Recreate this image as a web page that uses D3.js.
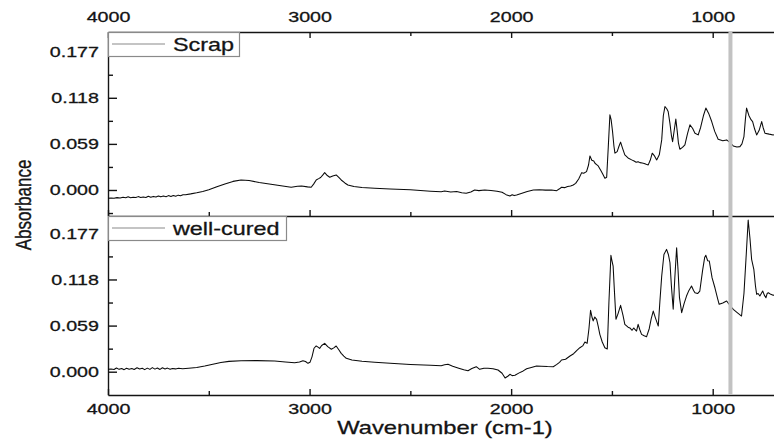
<!DOCTYPE html>
<html>
<head>
<meta charset="utf-8">
<script src="https://cdn.jsdelivr.net/npm/d3@7/dist/d3.min.js"></script>
<style>
  html, body { margin: 0; padding: 0; background: #fff; }
  svg { display: block; font-family: "Liberation Sans", Arial, sans-serif; }
  text { stroke: #141414; stroke-width: 0.3px; }
</style>
</head>
<body>
<svg id="chart" width="774" height="440"></svg>
<script>
// FTIR spectra of two epoxy samples (absorbance vs. wavenumber)
const seriesNames = ["Scrap", "well-cured"];

const scrapWavenumber = [
  4000, 3985, 3970, 3955, 3940, 3925, 3912, 3900, 3888, 3875, 3862, 3850, 3838, 3825, 3812, 3800,
  3788, 3775, 3762, 3750, 3738, 3725, 3712, 3700, 3688, 3676, 3664, 3652, 3640, 3628, 3615, 3590,
  3560, 3530, 3500, 3460, 3420, 3380, 3340, 3300, 3250, 3200, 3150, 3100, 3091, 3060, 3040, 3010,
  2992, 2980, 2967, 2955, 2945, 2935, 2925, 2912, 2900, 2885, 2868, 2855, 2843, 2825, 2810, 2780,
  2740, 2677, 2600, 2500, 2400, 2347, 2330, 2300, 2270, 2245, 2223, 2200, 2181, 2160, 2131, 2100,
  2070, 2045, 2025, 2006, 1995, 1985, 1973, 1950, 1920, 1890, 1860, 1830, 1800, 1774, 1760, 1750,
  1735, 1720, 1705, 1692, 1680, 1665, 1650, 1640, 1626, 1616, 1609, 1600, 1590, 1584, 1576, 1568,
  1555, 1545, 1535, 1526, 1518, 1510, 1504, 1497, 1490, 1485, 1474, 1465, 1457, 1448, 1436, 1420,
  1402, 1390, 1380, 1370, 1361, 1350, 1340, 1330, 1320, 1310, 1300, 1290, 1278, 1265, 1253, 1245,
  1237, 1228, 1221, 1212, 1205, 1199, 1190, 1183, 1176, 1170, 1163, 1150, 1138, 1125, 1113, 1100,
  1088, 1072, 1060, 1045, 1034, 1020, 1005, 990, 973, 950, 931, 915, 898, 880, 865, 855,
  845, 838, 832, 820, 810, 802, 792, 782, 770, 757, 750, 741, 720, 700, 690
];
const scrapAbsorbance = [
  -0.0106, -0.0102, -0.0105, -0.0098, -0.0103, -0.0094, -0.0100, -0.0088, -0.0099, -0.0092, -0.0097, -0.0085, -0.0095, -0.0089, -0.0096, -0.0080,
  -0.0092, -0.0082, -0.0090, -0.0076, -0.0088, -0.0078, -0.0086, -0.0072, -0.0083, -0.0070, -0.0079, -0.0066, -0.0074, -0.0060, -0.0060, -0.0050,
  -0.0035, -0.0018, 0.0003, 0.0040, 0.0078, 0.0110, 0.0128, 0.0122, 0.0095, 0.0076, 0.0057, 0.0039, 0.0035, 0.0048, 0.0052, 0.0040,
  0.0035, 0.0075, 0.0128, 0.0145, 0.0160, 0.0190, 0.0222, 0.0185, 0.0163, 0.0180, 0.0192, 0.0160, 0.0128, 0.0090, 0.0064, 0.0045,
  0.0033, 0.0022, 0.0012, 0.0002, -0.0015, -0.0022, -0.0012, -0.0026, -0.0020, -0.0035, -0.0042, -0.0025, 0.0000, -0.0008, 0.0000, -0.0006,
  -0.0015, -0.0030, -0.0060, -0.0077, -0.0062, -0.0072, -0.0064, -0.0045, -0.0020, 0.0000, 0.0004, -0.0002, 0.0000, -0.0009, 0.0015, 0.0035,
  0.0030, 0.0045, 0.0050, 0.0064, 0.0085, 0.0140, 0.0222, 0.0215, 0.0235, 0.0320, 0.0436, 0.0380, 0.0370, 0.0342, 0.0325, 0.0308,
  0.0250, 0.0200, 0.0150, 0.0163, 0.0555, 0.0962, 0.0900, 0.0750, 0.0560, 0.0471, 0.0491, 0.0560, 0.0612, 0.0540, 0.0449, 0.0410,
  0.0385, 0.0370, 0.0355, 0.0362, 0.0350, 0.0345, 0.0340, 0.0330, 0.0321, 0.0380, 0.0471, 0.0440, 0.0385, 0.0450, 0.0641, 0.0950,
  0.1068, 0.1040, 0.1004, 0.0850, 0.0700, 0.0619, 0.0780, 0.0907, 0.0750, 0.0600, 0.0522, 0.0545, 0.0577, 0.0720, 0.0834, 0.0790,
  0.0727, 0.0705, 0.0800, 0.0960, 0.1048, 0.0980, 0.0876, 0.0750, 0.0650, 0.0630, 0.0641, 0.0610, 0.0564, 0.0550, 0.0555, 0.0590,
  0.0684, 0.0900, 0.1048, 0.0950, 0.0900, 0.0876, 0.0780, 0.0705, 0.0760, 0.0876, 0.0800, 0.0727, 0.0715, 0.0705, 0.0708
];

const curedWavenumber = [
  4000, 3985, 3970, 3958, 3945, 3932, 3920, 3908, 3895, 3882, 3870, 3856, 3843, 3830, 3818, 3805,
  3792, 3780, 3767, 3755, 3742, 3730, 3717, 3705, 3692, 3680, 3665, 3650, 3630, 3600, 3560, 3520,
  3480, 3440, 3400, 3340, 3260, 3173, 3120, 3074, 3050, 3033, 3020, 3008, 2998, 2988, 2978, 2967,
  2958, 2950, 2940, 2925, 2910, 2892, 2880, 2868, 2855, 2843, 2830, 2818, 2790, 2740, 2677, 2600,
  2500, 2400, 2347, 2330, 2313, 2290, 2260, 2235, 2214, 2195, 2173, 2156, 2135, 2115, 2090, 2065,
  2045, 2030, 2015, 2006, 1995, 1981, 1960, 1940, 1923, 1900, 1874, 1850, 1820, 1791, 1775, 1760,
  1750, 1730, 1708, 1690, 1675, 1659, 1645, 1634, 1623, 1614, 1606, 1598, 1593, 1585, 1576, 1568,
  1560, 1548, 1535, 1523, 1515, 1505, 1500, 1494, 1488, 1480, 1470, 1457, 1445, 1436, 1420, 1411,
  1400, 1392, 1386, 1378, 1370, 1362, 1353, 1340, 1328, 1315, 1305, 1295, 1283, 1270, 1262, 1253,
  1242, 1229, 1220, 1212, 1205, 1196, 1188, 1179, 1172, 1165, 1154, 1142, 1130, 1118, 1105, 1095,
  1088, 1075, 1064, 1050, 1040, 1034, 1025, 1017, 1003, 989, 975, 968, 950, 931, 915, 898,
  880, 857, 845, 835, 824, 815, 807, 796, 788, 782, 775, 766, 759, 752, 744, 736,
  730, 724, 712, 700, 690
];
const curedAbsorbance = [
  0.0031, 0.0035, 0.0028, 0.0048, 0.0030, 0.0042, 0.0026, 0.0045, 0.0032, 0.0040, 0.0028, 0.0050, 0.0034, 0.0044, 0.0027, 0.0046,
  0.0030, 0.0052, 0.0033, 0.0047, 0.0029, 0.0050, 0.0035, 0.0046, 0.0031, 0.0042, 0.0036, 0.0044, 0.0038, 0.0045, 0.0055, 0.0072,
  0.0095, 0.0118, 0.0132, 0.0141, 0.0142, 0.0138, 0.0125, 0.0115, 0.0125, 0.0141, 0.0130, 0.0107, 0.0120, 0.0190, 0.0300, 0.0329,
  0.0315, 0.0299, 0.0335, 0.0363, 0.0320, 0.0287, 0.0305, 0.0329, 0.0280, 0.0235, 0.0200, 0.0171, 0.0150, 0.0133, 0.0120, 0.0108,
  0.0093, 0.0082, 0.0077, 0.0088, 0.0095, 0.0070, 0.0045, 0.0025, 0.0013, 0.0040, 0.0064, 0.0030, 0.0045, 0.0043, 0.0038, 0.0022,
  -0.0020, -0.0080, -0.0055, -0.0033, -0.0050, -0.0046, -0.0015, 0.0010, 0.0038, 0.0055, 0.0073, 0.0070, 0.0066, 0.0064, 0.0090, 0.0120,
  0.0150, 0.0160, 0.0201, 0.0230, 0.0270, 0.0307, 0.0330, 0.0380, 0.0363, 0.0550, 0.0785, 0.0690, 0.0650, 0.0700, 0.0670, 0.0580,
  0.0478, 0.0380, 0.0307, 0.0290, 0.0882, 0.1489, 0.1420, 0.1350, 0.1050, 0.0670, 0.0740, 0.0849, 0.0720, 0.0606, 0.0570, 0.0560,
  0.0530, 0.0560, 0.0540, 0.0520, 0.0606, 0.0540, 0.0478, 0.0460, 0.0448, 0.0550, 0.0680, 0.0776, 0.0680, 0.0584, 0.0900, 0.1224,
  0.1500, 0.1565, 0.1500, 0.1394, 0.1100, 0.0798, 0.1200, 0.1586, 0.1300, 0.0950, 0.0755, 0.0870, 0.0968, 0.1040, 0.1096, 0.1040,
  0.1010, 0.1000, 0.1032, 0.1300, 0.1460, 0.1489, 0.1420, 0.1416, 0.1200, 0.1074, 0.0930, 0.0862, 0.0880, 0.0904, 0.0850, 0.0798,
  0.0760, 0.0712, 0.1000, 0.1438, 0.1940, 0.1700, 0.1438, 0.1310, 0.1100, 0.0990, 0.1000, 0.0968, 0.1000, 0.1032, 0.0980, 0.0946,
  0.1000, 0.1010, 0.0990, 0.0977, 0.0985
];

const xMajorTicks = [4000, 3000, 2000, 1000];
const xMinorTicks = [3500, 2500, 1500, 500];
const yMajorTicks = [0, 0.059, 0.118, 0.177];
const yMinorTicks = [-0.0295, 0.0295, 0.0885, 0.1475];
const markerWavenumber = 912;   // oxirane ring band
const xTitle = "Wavenumber (cm-1)";
const yTitle = "Absorbance";

const svg = d3.select("#chart");
const left = 108, frameTop = 32, frameMid = 216, frameBottom = 395;
const ink = "#141414";

const x = d3.scaleLinear().domain([4000, 600]).range([left, left + 3400 * 0.20157]);

const panels = [
  { name: seriesNames[0], wn: scrapWavenumber, abs: scrapAbsorbance,
    y: d3.scaleLinear().domain([-0.0333, 0.2022]).range([frameMid, frameTop]),
    legendW: 131 },
  { name: seriesNames[1], wn: curedWavenumber, abs: curedAbsorbance,
    y: d3.scaleLinear().domain([-0.0298, 0.1992]).range([frameBottom, frameMid]),
    legendW: 178 }
];

function styleAxis(g) {
  g.selectAll("path.domain").attr("stroke", ink).attr("stroke-width", 1.4);
  g.selectAll(".tick line").attr("stroke", ink).attr("stroke-width", 1.4);
}
function labelFont(g, dx) {
  g.selectAll(".tick text")
    .attr("fill", ink)
    .attr("font-size", 15.5)
    .attr("font-family", "Liberation Sans, Arial, sans-serif")
    .attr("x", 0)
    .attr("transform", `translate(${dx},0) scale(1.27,1)`);
}

// horizontal axes: top, panel divider, bottom
const topAxis = svg.append("g").attr("transform", `translate(0,${frameTop})`)
  .call(d3.axisTop(x).tickValues(xMajorTicks).tickSize(-6).tickSizeOuter(0).tickPadding(10.3).tickFormat(d3.format("d")));
styleAxis(topAxis); labelFont(topAxis, 0);
svg.append("g").attr("transform", `translate(0,${frameTop})`)
  .call(d3.axisTop(x).tickValues(xMinorTicks).tickSize(-4).tickFormat(""))
  .call(g => g.select(".domain").remove()).call(styleAxis);

const midAxis = svg.append("g").attr("transform", `translate(0,${frameMid})`)
  .call(d3.axisBottom(x).tickValues(xMajorTicks).tickSize(-6).tickSizeOuter(0).tickFormat(""));
styleAxis(midAxis);
svg.append("g").attr("transform", `translate(0,${frameMid})`)
  .call(d3.axisBottom(x).tickValues(xMinorTicks).tickSize(-4).tickFormat(""))
  .call(g => g.select(".domain").remove()).call(styleAxis);

const bottomAxis = svg.append("g").attr("transform", `translate(0,${frameBottom})`)
  .call(d3.axisBottom(x).tickValues(xMajorTicks).tickSize(-6).tickSizeOuter(0).tickPadding(8.2).tickFormat(d3.format("d")));
styleAxis(bottomAxis); labelFont(bottomAxis, 0);
svg.append("g").attr("transform", `translate(0,${frameBottom})`)
  .call(d3.axisBottom(x).tickValues(xMinorTicks).tickSize(-4).tickFormat(""))
  .call(g => g.select(".domain").remove()).call(styleAxis);

// panels: left axis, spectrum, legend
panels.forEach((p, i) => {
  const [y0, y1] = p.y.range();
  const ya = svg.append("g").attr("transform", `translate(${left},0)`)
    .call(d3.axisLeft(p.y).tickValues(yMajorTicks).tickSize(-9).tickSizeOuter(0).tickPadding(9).tickFormat(d3.format(".3f")));
  styleAxis(ya); labelFont(ya, -9);
  svg.append("g").attr("transform", `translate(${left},0)`)
    .call(d3.axisLeft(p.y).tickValues(yMinorTicks.filter(v => p.y(v) <= y0 - 1)).tickSize(-5).tickFormat(""))
    .call(g => g.select(".domain").remove()).call(styleAxis);

  const clipId = `clip${i}`;
  svg.append("clipPath").attr("id", clipId)
    .append("rect").attr("x", left).attr("y", y1).attr("width", 774 - left).attr("height", y0 - y1);

  const line = d3.line().x(d => x(d[0])).y(d => p.y(d[1]));
  svg.append("path")
    .datum(d3.zip(p.wn, p.abs))
    .attr("clip-path", `url(#${clipId})`)
    .attr("fill", "none")
    .attr("stroke", "#0a0a0a")
    .attr("stroke-width", 1.05)
    .attr("stroke-linejoin", "round")
    .attr("d", line);

  const lg = svg.append("g").attr("transform", `translate(${left},${y1})`);
  lg.append("rect").attr("x", 0.5).attr("y", 0.5).attr("width", p.legendW).attr("height", 24)
    .attr("fill", "#fff").attr("stroke", "#8a8a8a").attr("stroke-width", 1.2);
  lg.append("line").attr("x1", 4).attr("x2", 57).attr("y1", 12).attr("y2", 12)
    .attr("stroke", "#8a8a8a").attr("stroke-width", 1.2);
  lg.append("text").attr("transform", "translate(65,18.5) scale(1.23,1)")
    .attr("font-size", 19).attr("fill", ink).text(p.name);
});

// vertical marker at the epoxide band
svg.append("line")
  .attr("x1", x(markerWavenumber)).attr("x2", x(markerWavenumber))
  .attr("y1", frameTop).attr("y2", frameBottom)
  .attr("stroke", "#c2c2c2").attr("stroke-width", 4);

// titles
svg.append("text").attr("transform", "translate(445,434) scale(1.25,1)")
  .attr("text-anchor", "middle").attr("font-size", 19).attr("fill", ink).text(xTitle);
svg.append("text").attr("transform", "translate(31,205) scale(1.35,1) rotate(-90)")
  .attr("text-anchor", "middle").attr("font-size", 17).attr("fill", ink).text(yTitle);
</script>
</body>
</html>
